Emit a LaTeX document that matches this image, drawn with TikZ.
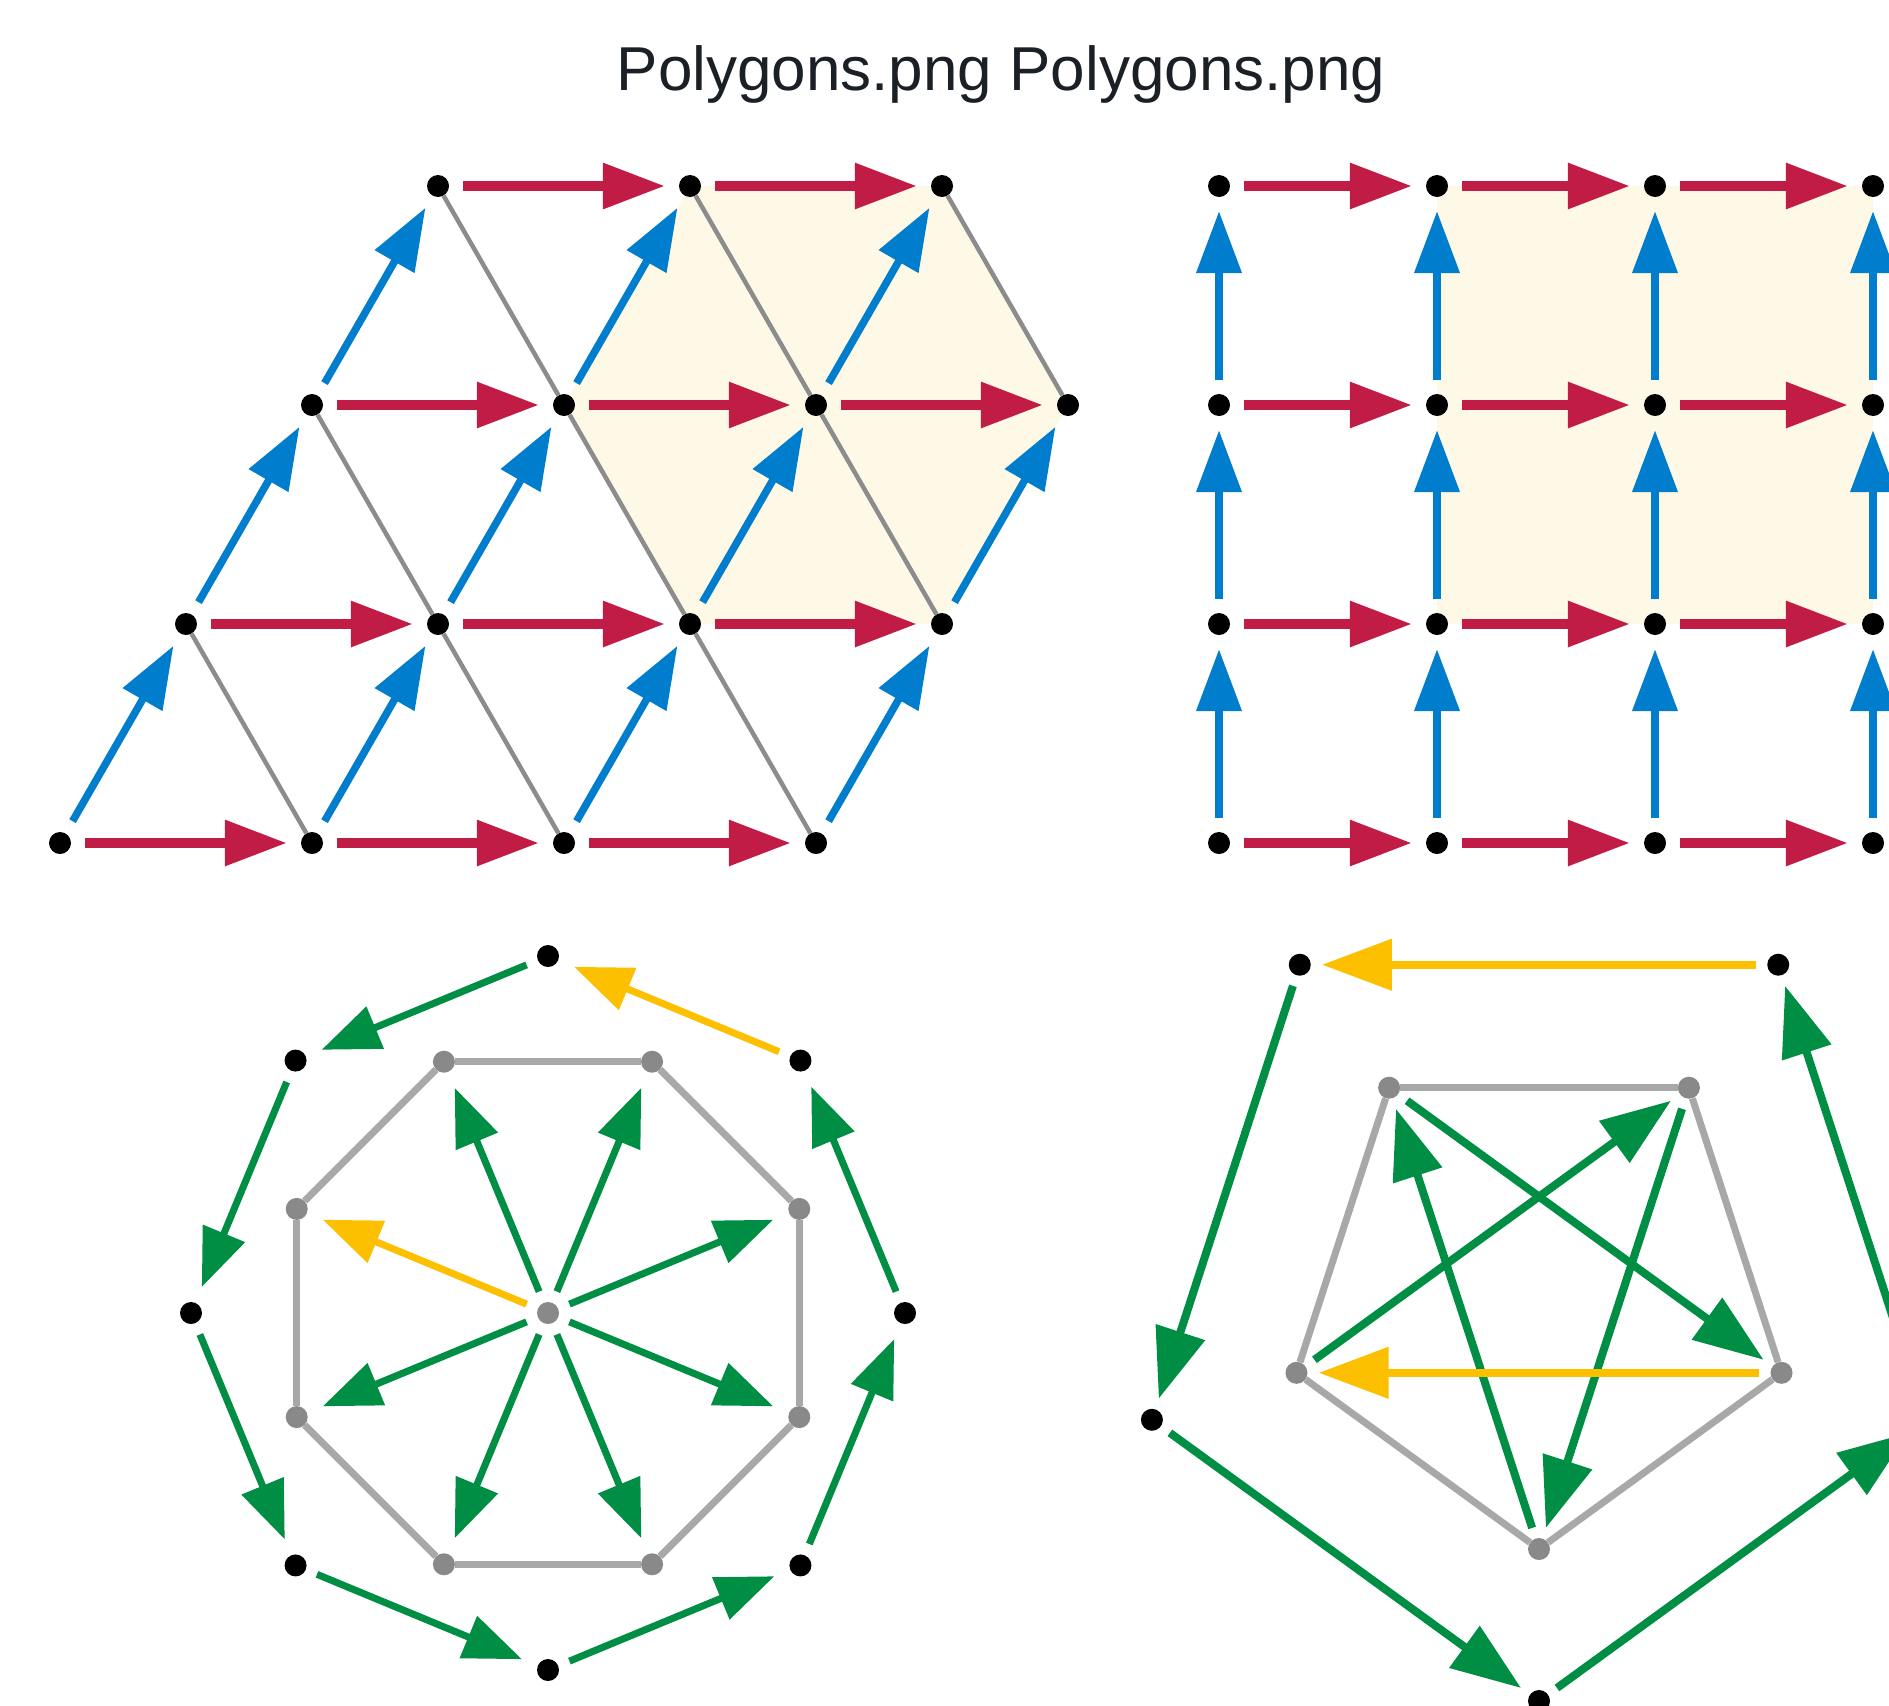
\documentclass[tikz,border=0pt]{standalone}
\usepackage{fontspec}
\setmainfont{Liberation Sans}
\usetikzlibrary{arrows.meta,calc}
\definecolor{cred}{RGB}{192,28,70}
\definecolor{cblue}{RGB}{0,125,204}
\definecolor{cgreen}{RGB}{0,142,68}
\definecolor{cyellow}{RGB}{252,192,0}
\definecolor{cgreyline}{RGB}{140,140,140}
\definecolor{cgreyedge}{RGB}{168,168,168}
\definecolor{cgreydot}{RGB}{137,137,137}
\definecolor{ccream}{RGB}{254,249,230}
\definecolor{ctitle}{RGB}{26,32,38}
\pgfdeclarelayer{bg}
\pgfsetlayers{bg,main}
\begin{document}
\begin{tikzpicture}[x=1pt,y=-1pt,
  dot/.style={circle,fill=black,inner sep=0pt,minimum size=22pt},
  gdot/.style={circle,fill=cgreydot,inner sep=0pt,minimum size=22pt},
  latarr/.style={line width=#1,-{Triangle[length=62pt,width=44pt]},shorten <=14pt,shorten >=14pt},
  redarr/.style={draw=cred,latarr=9.5pt},
  bluearr/.style={draw=cblue,latarr=7.5pt},
  octarr/.style={draw=#1,line width=7pt,-{Triangle[length=58pt,width=44pt]},shorten <=12pt,shorten >=17pt},
  pentarr/.style={draw=#1,line width=8pt,-{Triangle[length=70pt,width=50pt]},shorten <=11pt,shorten >=11pt},
  latline/.style={draw=cgreyline,line width=4.5pt},
  polyedge/.style={draw=cgreyedge,line width=7pt},
  titletext/.style={anchor=base,text=ctitle,font=\fontsize{62}{74}\selectfont}]
\useasboundingbox (0,0) rectangle (1889,1705);
\clip (0,0) rectangle (1889,1705);

% title
\node[titletext] (title) at (1001,90) {Polygons.png Polygons.png};

% ---------- triangular lattice ----------
\foreach \r/\n in {0/3,1/3,2/3,3/2}
  \foreach \c in {0,...,\n}
    \node[dot] (t-\r-\c) at ({60+252*\c+126*\r},{843-219*\r}) {};
\begin{pgfonlayer}{bg}
  \fill[ccream] (t-3-1.center) -- (t-3-2.center) -- (t-2-3.center) -- (t-1-3.center) -- (t-1-2.center) -- (t-2-1.center) -- cycle;
\end{pgfonlayer}
% grey down-right lines
\foreach \r/\n in {3/2,2/2,1/2}
  \foreach \c in {0,...,\n}{
    \pgfmathtruncatemacro{\rr}{\r-1}
    \pgfmathtruncatemacro{\cc}{\c+1}
    \draw[latline] (t-\r-\c) -- (t-\rr-\cc);
  }
% blue up-right arrows
\foreach \r/\n in {0/3,1/3,2/2}
  \foreach \c in {0,...,\n}{
    \pgfmathtruncatemacro{\rr}{\r+1}
    \draw[bluearr] (t-\r-\c) -- (t-\rr-\c);
  }
% red horizontal arrows
\foreach \r/\n in {0/2,1/2,2/2,3/1}
  \foreach \c in {0,...,\n}{
    \pgfmathtruncatemacro{\cc}{\c+1}
    \draw[redarr] (t-\r-\c) -- (t-\r-\cc);
  }

% ---------- square lattice ----------
\foreach \r in {0,...,3}
  \foreach \c in {0,...,3}
    \node[dot] (s-\r-\c) at ({1219+218*\c},{843-219*\r}) {};
\begin{pgfonlayer}{bg}
  \fill[ccream] (s-3-1.center) rectangle (s-1-3.center);
\end{pgfonlayer}
\foreach \r in {0,...,2}
  \foreach \c in {0,...,3}{
    \pgfmathtruncatemacro{\rr}{\r+1}
    \draw[bluearr] (s-\r-\c) -- (s-\rr-\c);
  }
\foreach \r in {0,...,3}
  \foreach \c in {0,...,2}{
    \pgfmathtruncatemacro{\cc}{\c+1}
    \draw[redarr] (s-\r-\c) -- (s-\r-\cc);
  }

% ---------- octagon ----------
\node[gdot] (oc) at (548,1313) {};
\foreach \k in {0,...,7}{
  \node[dot] (oo-\k) at ({548+357*cos(45*\k)},{1313-357*sin(45*\k)}) {};
  \node[gdot] (oi-\k) at ({548+272*cos(22.5+45*\k)},{1313-272*sin(22.5+45*\k)}) {};
}
\foreach \k in {0,...,7}{
  \pgfmathtruncatemacro{\kk}{mod(\k+1,8)}
  \draw[polyedge] (oi-\k) -- (oi-\kk);
}
\foreach \k in {2,...,7,0}{
  \pgfmathtruncatemacro{\kk}{mod(\k+1,8)}
  \draw[octarr=cgreen] (oo-\k) -- (oo-\kk);
}
\draw[octarr=cyellow] (oo-1) -- (oo-2);
\foreach \k in {0,1,2,4,5,6,7}
  \draw[octarr=cgreen] (oc) -- (oi-\k);
\draw[octarr=cyellow] (oc) -- (oi-3);

% ---------- pentagon ----------
\foreach \k in {0,...,4}{
  \node[dot] (pe-\k) at ({1539+407*cos(54+72*\k)},{1294-407*sin(54+72*\k)}) {};
  \node[gdot] (pi-\k) at ({1539+255*cos(54+72*\k)},{1294-255*sin(54+72*\k)}) {};
}
\foreach \k in {0,...,4}{
  \pgfmathtruncatemacro{\kk}{mod(\k+1,5)}
  \draw[polyedge] (pi-\k) -- (pi-\kk);
}
\draw[pentarr=cyellow] (pe-0) -- (pe-1);
\draw[pentarr=cgreen] (pe-1) -- (pe-2);
\draw[pentarr=cgreen] (pe-2) -- (pe-3);
\draw[pentarr=cgreen] (pe-3) -- (pe-4);
\draw[pentarr=cgreen] (pe-4) -- (pe-0);
\draw[pentarr=cgreen] (pi-2) -- (pi-0);
\draw[pentarr=cgreen] (pi-0) -- (pi-3);
\draw[pentarr=cgreen] (pi-3) -- (pi-1);
\draw[pentarr=cgreen] (pi-1) -- (pi-4);
\draw[pentarr=cyellow] (pi-4) -- (pi-2);
\end{tikzpicture}
\end{document}
